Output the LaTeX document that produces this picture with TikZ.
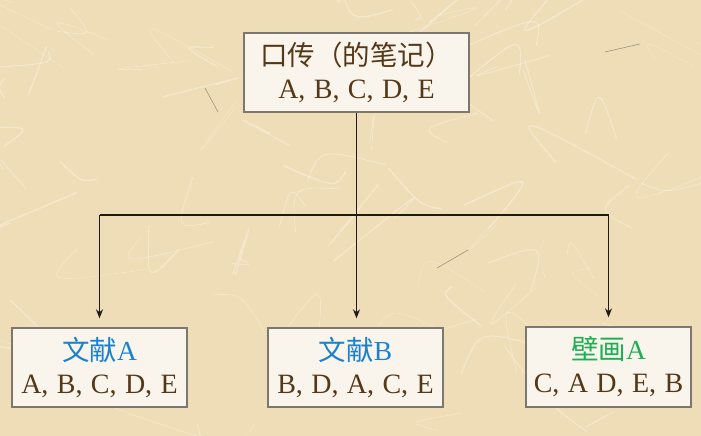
\documentclass[tikz,border=0pt]{standalone}
\usepackage{fontspec}
\setmainfont{Liberation Serif}
\newfontfamily\cjk{Noto Sans CJK SC}
\usetikzlibrary{arrows.meta}
\definecolor{paper}{HTML}{EEDDB6}
\definecolor{boxfill}{HTML}{FAF5EC}
\definecolor{boxline}{HTML}{7C7870}
\definecolor{ink}{HTML}{553817}
\definecolor{blueT}{HTML}{1A80D2}
\definecolor{greenT}{HTML}{1EAF52}
\definecolor{conn}{HTML}{1E1A16}
\newcommand{\cardfont}{\fontsize{28}{33}\selectfont}
\newcommand{\seq}[1]{{\spaceskip=0.3em\relax #1}}
\newcommand{\ttl}[1]{{\fontsize{27.5}{33}\selectfont #1}}
\tikzset{
  card/.style={draw=boxline, line width=1.3pt, fill=boxfill, align=center, inner sep=0pt, text=ink,
    font=\cardfont},
  conline/.style={draw=conn, line width=1.8pt},
  conarrow/.style={conline, -{Stealth[length=9pt,width=7pt]}, shorten >=9pt},
}
\begin{document}
\begin{tikzpicture}[x=1pt,y=-1pt]
\fill[paper] (0,0) rectangle (701,436);
\useasboundingbox (0,0) rectangle (701,436);
% paper fibres
\pgfmathsetseed{11}
\foreach \i in {1,...,80}{
  \pgfmathsetmacro\xa{rnd*701}
  \pgfmathsetmacro\ya{rnd*436}
  \pgfmathsetmacro\dx{(rnd-0.5)*160}
  \pgfmathsetmacro\dy{(rnd-0.5)*90}
  \pgfmathsetmacro\cx{(rnd-0.5)*120}
  \pgfmathsetmacro\cy{(rnd-0.5)*120}
  \pgfmathsetmacro\lw{0.4+rnd*1.2}
  \draw[white, opacity=0.3, line width=\lw pt, line cap=round]
    (\xa,\ya) .. controls (\xa+\cx,\ya+\cy) .. (\xa+\dx,\ya+\dy);
}
\draw[black!70, opacity=0.5, line width=0.6pt] (205,88) -- (218,112);
\draw[black!70, opacity=0.5, line width=0.6pt] (605,52) -- (640,44);
\draw[black!70, opacity=0.5, line width=0.6pt] (437,268) -- (468,250);

\node[card, minimum width=225pt, minimum height=79pt] (top) at (356.5,72.5)
  {\ttl{\cjk 口传（的笔记）}\\ \seq{A, B, C, D, E}};
\node[card, minimum width=175pt, minimum height=79pt] (a) at (99.5,367.5)
  {\ttl{\color{blueT}{\cjk 文献}A}\\ \seq{A, B, C, D, E}};
\node[card, minimum width=175pt, minimum height=79pt] (b) at (355.5,367.5)
  {\ttl{\color{blueT}{\cjk 文献}B}\\ \seq{B, D, A, C, E}};
\node[card, minimum width=165pt, minimum height=80pt] (c) at (608.5,367)
  {\ttl{\color{greenT}{\cjk 壁画}A}\\ \seq{C, A D, E, B}};

\coordinate (j) at (top.south |- 0,215);
\draw[conline] (top.south) -- (j);
\draw[conline] (j -| a.north) -- (j -| c.north);
\draw[conarrow] (j -| a.north) -- (a.north);
\draw[conarrow] (j) -- (b.north -| j);
\draw[conarrow] (j -| c.north) -- (c.north);
\end{tikzpicture}
\end{document}
